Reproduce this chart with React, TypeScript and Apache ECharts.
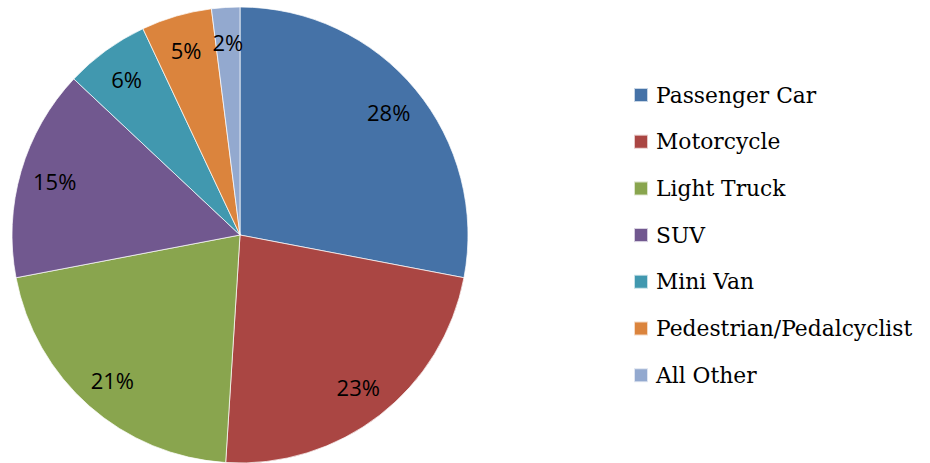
import React, { useEffect, useRef } from "react";
import * as echarts from "echarts";

const categories = [
  "Passenger Car",
  "Motorcycle",
  "Light Truck",
  "SUV",
  "Mini Van",
  "Pedestrian/Pedalcyclist",
  "All Other",
];
const values = [28, 23, 21, 15, 6, 5, 2];
const colors = ["#4572A7", "#AA4643", "#89A54E", "#71588F", "#4198AF", "#DB843D", "#93A9CF"];

export default function App() {
  const ref = useRef<HTMLDivElement>(null);
  useEffect(() => {
    if (!ref.current) return;
    const chart = echarts.init(ref.current, null, { renderer: "svg" });
    const data = categories.map((name, i) => ({ name, value: values[i] }));
    chart.setOption({
      animation: false,
      backgroundColor: "#ffffff",
      color: colors,
      legend: {
        orient: "vertical",
        left: 633,
        top: 83,
        padding: 0,
        itemWidth: 14,
        itemHeight: 14,
        itemGap: 22.7,
        icon: "rect",
        data: categories,
        textStyle: {
          fontFamily: "DejaVu Serif",
          fontSize: 21.8,
          color: "#000",
          lineHeight: 24,
          padding: [0, 0, 0, 3],
        },
      },
      series: [
        {
          type: "pie",
          center: [240, 235],
          radius: [0, 228],
          startAngle: 90,
          clockwise: true,
          avoidLabelOverlap: false,
          label: { show: false },
          labelLine: { show: false },
          itemStyle: { borderColor: "rgba(255,255,255,0.7)", borderWidth: 1 },
          emphasis: { disabled: true },
          data,
        },
        {
          type: "pie",
          center: [240, 235],
          radius: [152, 228],
          startAngle: 90,
          clockwise: true,
          silent: true,
          avoidLabelOverlap: false,
          z: 3,
          itemStyle: { color: "transparent", borderWidth: 0 },
          labelLine: { show: false },
          label: {
            show: true,
            position: "inside",
            formatter: "{c}%",
            fontFamily: "Open Sans",
            fontSize: 22,
            color: "#000",
          },
          emphasis: { disabled: true },
          data,
        },
      ],
    });
    return () => chart.dispose();
  }, []);
  return (
    <div
      ref={ref}
      style={{ position: "absolute", left: 0, top: 0, width: 930, height: 463 }}
    />
  );
}
